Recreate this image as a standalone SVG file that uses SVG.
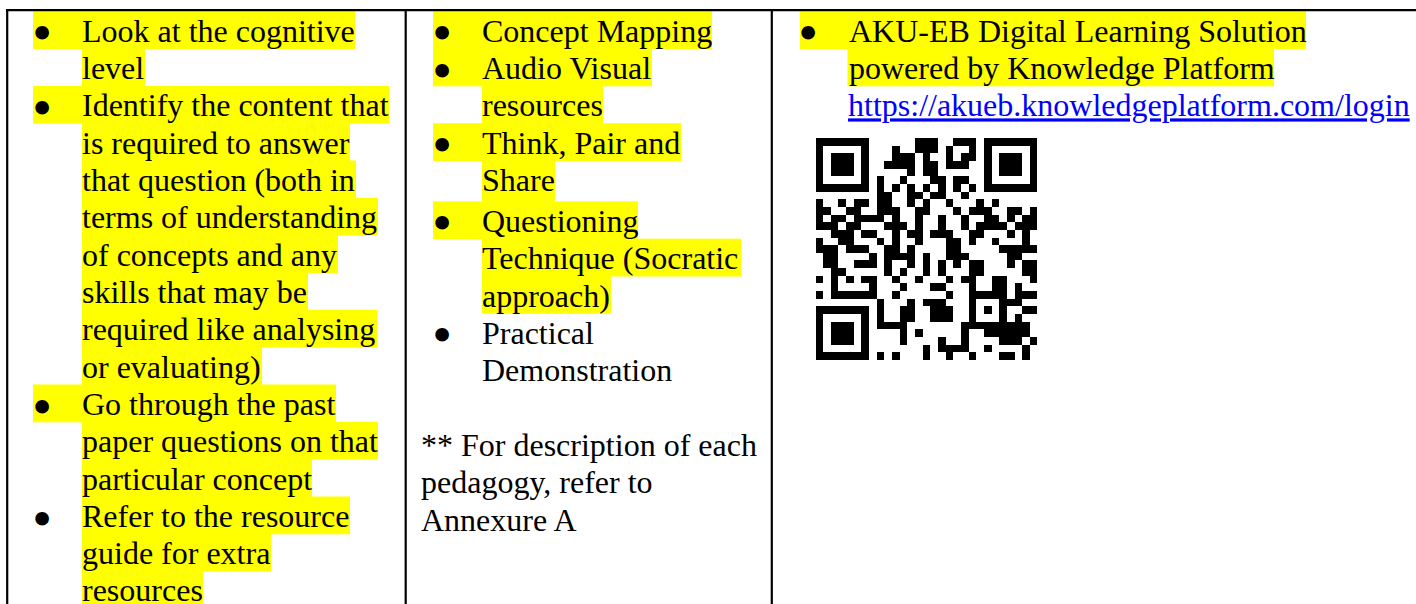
<svg xmlns="http://www.w3.org/2000/svg" width="1416" height="604" viewBox="0 0 1416 604">
  <style>
    .t { font-family: "Liberation Serif", "Times New Roman", serif; font-size: 32px; fill: #000; }
    .b { font-family: "Liberation Serif", "Times New Roman", serif; font-size: 32px; fill: #000; stroke: #000; stroke-width: 6; stroke-linejoin: round; text-anchor: middle; }
    .hl { fill: #ffff00; }
    .link { fill: #0000ff; text-decoration: underline; }
    .grid { stroke: #000; stroke-width: 2.2; fill: none; }
  </style>
  <rect width="1416" height="604" fill="#fff"/>

  <!-- Column 1: study strategies -->
  <g id="cell-strategies">
    <g class="hl-band">
      <rect class="hl" x="33" y="11.2" width="322" height="37.8"/>
      <rect class="hl" x="82" y="48.5" width="63" height="37.8"/>
      <rect class="hl" x="33" y="85.9" width="356" height="37.8"/>
      <rect class="hl" x="82" y="123.2" width="268" height="37.8"/>
      <rect class="hl" x="82" y="160.5" width="274" height="37.8"/>
      <rect class="hl" x="82" y="197.9" width="296" height="37.8"/>
      <rect class="hl" x="82" y="235.2" width="256" height="37.8"/>
      <rect class="hl" x="82" y="272.5" width="226" height="37.8"/>
      <rect class="hl" x="82" y="309.8" width="295" height="37.8"/>
      <rect class="hl" x="82" y="347.2" width="180" height="37.8"/>
      <rect class="hl" x="33" y="384.5" width="303" height="37.8"/>
      <rect class="hl" x="82" y="421.8" width="296" height="37.8"/>
      <rect class="hl" x="82" y="459.2" width="230" height="37.8"/>
      <rect class="hl" x="82" y="496.5" width="268" height="37.8"/>
      <rect class="hl" x="82" y="533.8" width="189" height="37.8"/>
      <rect class="hl" x="82" y="571.2" width="121" height="37.8"/>
    </g>
    <text class="b" x="42" y="44.2">•</text>
    <text class="b" x="42" y="118.9">•</text>
    <text class="b" x="42" y="417.5">•</text>
    <text class="b" x="42" y="529.5">•</text>
    <text class="t" x="82" y="41.7">Look at the cognitive</text>
    <text class="t" x="82" y="79.0">level</text>
    <text class="t" x="82" y="116.4">Identify the content that</text>
    <text class="t" x="82" y="153.7">is required to answer</text>
    <text class="t" x="82" y="191.0">that question (both in</text>
    <text class="t" x="82" y="228.4">terms of understanding</text>
    <text class="t" x="82" y="265.7">of concepts and any</text>
    <text class="t" x="82" y="303.0">skills that may be</text>
    <text class="t" x="82" y="340.3">required like analysing</text>
    <text class="t" x="82" y="377.7">or evaluating)</text>
    <text class="t" x="82" y="415.0">Go through the past</text>
    <text class="t" x="82" y="452.3">paper questions on that</text>
    <text class="t" x="82" y="489.7">particular concept</text>
    <text class="t" x="82" y="527.0">Refer to the resource</text>
    <text class="t" x="82" y="564.3">guide for extra</text>
    <text class="t" x="82" y="600.5">resources</text>
  </g>

  <!-- Column 2: pedagogies -->
  <g id="cell-pedagogies">
    <g class="hl-band">
      <rect class="hl" x="433" y="11.2" width="279" height="37.8"/>
      <rect class="hl" x="433" y="48.5" width="219" height="37.8"/>
      <rect class="hl" x="482" y="85.9" width="121" height="37.8"/>
      <rect class="hl" x="433" y="123.2" width="248" height="37.8"/>
      <rect class="hl" x="482" y="160.5" width="73" height="41.3"/>
      <rect class="hl" x="433" y="201.4" width="205" height="37.8"/>
      <rect class="hl" x="482" y="238.7" width="259" height="37.8"/>
      <rect class="hl" x="482" y="276.0" width="129" height="37.8"/>
    </g>
    <text class="b" x="442" y="44.2">•</text>
    <text class="b" x="442" y="81.5">•</text>
    <text class="b" x="442" y="156.2">•</text>
    <text class="b" x="442" y="234.4">•</text>
    <text class="b" x="442" y="346.3">•</text>
    <text class="t" x="482" y="41.7">Concept Mapping</text>
    <text class="t" x="482" y="79.0">Audio Visual</text>
    <text class="t" x="482" y="116.4">resources</text>
    <text class="t" x="482" y="153.7">Think, Pair and</text>
    <text class="t" x="482" y="191.0">Share</text>
    <text class="t" x="482" y="231.9">Questioning</text>
    <text class="t" x="482" y="269.2">Technique (Socratic</text>
    <text class="t" x="482" y="306.5">approach)</text>
    <text class="t" x="482" y="343.8">Practical</text>
    <text class="t" x="482" y="381.2">Demonstration</text>
    <text class="t" x="421" y="455.8">** For description of each</text>
    <text class="t" x="421" y="493.2">pedagogy, refer to</text>
    <text class="t" x="421" y="530.5">Annexure A</text>
  </g>

  <!-- Column 3: digital resources -->
  <g id="cell-resources">
    <rect class="hl" x="800" y="11.2" width="506" height="37.8"/>
    <rect class="hl" x="847.5" y="48.5" width="426.5" height="37.8"/>
    <text class="b" x="808" y="44.2">•</text>
    <text class="t" x="849" y="41.7">AKU-EB Digital Learning Solution</text>
    <text class="t" x="849" y="79.0">powered by Knowledge Platform</text>
    <text class="t link" x="848" y="116.4">https://akueb.knowledgeplatform.com/login</text>
    <g id="qr-code" transform="translate(815.5 138) scale(7.655)">
      <path fill="#000" shape-rendering="crispEdges" d="
        M0 0h7v1h-7z M13 0h3v1h-3z M18 0h3v1h-3z M22 0h7v1h-7z
        M0 1h1v1h-1z M6 1h1v1h-1z M10 1h1v1h-1z M13 1h3v1h-3z M17 1h1v1h-1z M20 1h1v1h-1z M22 1h1v1h-1z M28 1h1v1h-1z
        M0 2h1v1h-1z M2 2h3v1h-3z M6 2h1v1h-1z M10 2h3v1h-3z M14 2h1v1h-1z M17 2h1v1h-1z M19 2h2v1h-2z M22 2h1v1h-1z M24 2h3v1h-3z M28 2h1v1h-1z
        M0 3h1v1h-1z M2 3h3v1h-3z M6 3h1v1h-1z M9 3h4v1h-4z M14 3h2v1h-2z M17 3h3v1h-3z M22 3h1v1h-1z M24 3h3v1h-3z M28 3h1v1h-1z
        M0 4h1v1h-1z M2 4h3v1h-3z M6 4h1v1h-1z M12 4h1v1h-1z M14 4h2v1h-2z M22 4h1v1h-1z M24 4h3v1h-3z M28 4h1v1h-1z
        M0 5h1v1h-1z M6 5h1v1h-1z M8 5h1v1h-1z M11 5h1v1h-1z M15 5h2v1h-2z M18 5h2v1h-2z M22 5h1v1h-1z M28 5h1v1h-1z
        M0 6h7v1h-7z M8 6h1v1h-1z M10 6h1v1h-1z M12 6h1v1h-1z M14 6h1v1h-1z M16 6h1v1h-1z M18 6h1v1h-1z M20 6h1v1h-1z M22 6h7v1h-7z
        M8 7h2v1h-2z M12 7h2v1h-2z M15 7h2v1h-2z M19 7h1v1h-1z
        M0 8h1v1h-1z M3 8h1v1h-1z M5 8h2v1h-2z M8 8h2v1h-2z M12 8h1v1h-1z M14 8h1v1h-1z M17 8h1v1h-1z M21 8h1v1h-1z M23 8h1v1h-1z
        M0 9h2v1h-2z M4 9h2v1h-2z M8 9h3v1h-3z M13 9h2v1h-2z M18 9h1v1h-1z M20 9h3v1h-3z M25 9h2v1h-2z M28 9h1v1h-1z
        M0 10h1v1h-1z M2 10h2v1h-2z M5 10h4v1h-4z M10 10h1v1h-1z M13 10h1v1h-1z M16 10h1v1h-1z M19 10h1v1h-1z M22 10h2v1h-2z M25 10h1v1h-1z M27 10h2v1h-2z
        M0 11h3v1h-3z M4 11h2v1h-2z M9 11h3v1h-3z M13 11h1v1h-1z M16 11h1v1h-1z M19 11h1v1h-1z M21 11h4v1h-4z M26 11h3v1h-3z
        M2 12h3v1h-3z M6 12h2v1h-2z M10 12h1v1h-1z M12 12h2v1h-2z M15 12h3v1h-3z M20 12h2v1h-2z M25 12h1v1h-1z M27 12h1v1h-1z
        M0 13h1v1h-1z M3 13h2v1h-2z M8 13h1v1h-1z M10 13h1v1h-1z M13 13h1v1h-1z M17 13h2v1h-2z M20 13h1v1h-1z M23 13h1v1h-1z M27 13h1v1h-1z
        M0 14h3v1h-3z M4 14h3v1h-3z M9 14h2v1h-2z M12 14h1v1h-1z M17 14h2v1h-2z M24 14h5v1h-5z
        M1 15h2v1h-2z M7 15h1v1h-1z M9 15h4v1h-4z M14 15h1v1h-1z M17 15h3v1h-3z M25 15h2v1h-2z
        M1 16h2v1h-2z M5 16h3v1h-3z M9 16h1v1h-1z M12 16h1v1h-1z M14 16h1v1h-1z M16 16h1v1h-1z M18 16h1v1h-1z M20 16h2v1h-2z M25 16h1v1h-1z M27 16h2v1h-2z
        M2 17h2v1h-2z M9 17h1v1h-1z M11 17h1v1h-1z M14 17h1v1h-1z M16 17h1v1h-1z M20 17h2v1h-2z M27 17h2v1h-2z
        M0 18h1v1h-1z M2 18h1v1h-1z M4 18h1v1h-1z M6 18h2v1h-2z M10 18h1v1h-1z M13 18h1v1h-1z M17 18h1v1h-1z M19 18h2v1h-2z M23 18h2v1h-2z M28 18h1v1h-1z
        M2 19h1v1h-1z M7 19h1v1h-1z M11 19h1v1h-1z M15 19h2v1h-2z M20 19h1v1h-1z M23 19h2v1h-2z M26 19h1v1h-1z
        M0 20h1v1h-1z M2 20h6v1h-6z M10 20h1v1h-1z M17 20h1v1h-1z M20 20h5v1h-5z M26 20h3v1h-3z
        M8 21h1v1h-1z M12 21h1v1h-1z M14 21h3v1h-3z M20 21h1v1h-1z M24 21h3v1h-3z
        M0 22h7v1h-7z M8 22h1v1h-1z M11 22h2v1h-2z M15 22h3v1h-3z M20 22h1v1h-1z M22 22h1v1h-1z M24 22h1v1h-1z M27 22h2v1h-2z
        M0 23h1v1h-1z M6 23h1v1h-1z M8 23h1v1h-1z M11 23h2v1h-2z M15 23h3v1h-3z M20 23h1v1h-1z M24 23h1v1h-1z M26 23h1v1h-1z
        M0 24h1v1h-1z M2 24h3v1h-3z M6 24h1v1h-1z M8 24h4v1h-4z M19 24h9v1h-9z
        M0 25h1v1h-1z M2 25h3v1h-3z M6 25h1v1h-1z M11 25h1v1h-1z M13 25h1v1h-1z M19 25h1v1h-1z M22 25h6v1h-6z
        M0 26h1v1h-1z M2 26h3v1h-3z M6 26h1v1h-1z M11 26h1v1h-1z M16 26h1v1h-1z M19 26h1v1h-1z M24 26h3v1h-3z M28 26h1v1h-1z
        M0 27h1v1h-1z M6 27h1v1h-1z M14 27h1v1h-1z M16 27h4v1h-4z M22 27h1v1h-1z M27 27h1v1h-1z
        M0 28h7v1h-7z M8 28h1v1h-1z M10 28h1v1h-1z M14 28h1v1h-1z M17 28h1v1h-1z M20 28h1v1h-1z M24 28h2v1h-2z M27 28h1v1h-1z"/>
    </g>
  </g>

  <!-- Table rules -->
  <g id="table-grid" class="grid">
    <line x1="6" y1="10.2" x2="1416" y2="10.2"/>
    <line x1="7.2" y1="9" x2="7.2" y2="604"/>
    <line x1="405.7" y1="9" x2="405.7" y2="604"/>
    <line x1="771.8" y1="9" x2="771.8" y2="604"/>
  </g>
</svg>
